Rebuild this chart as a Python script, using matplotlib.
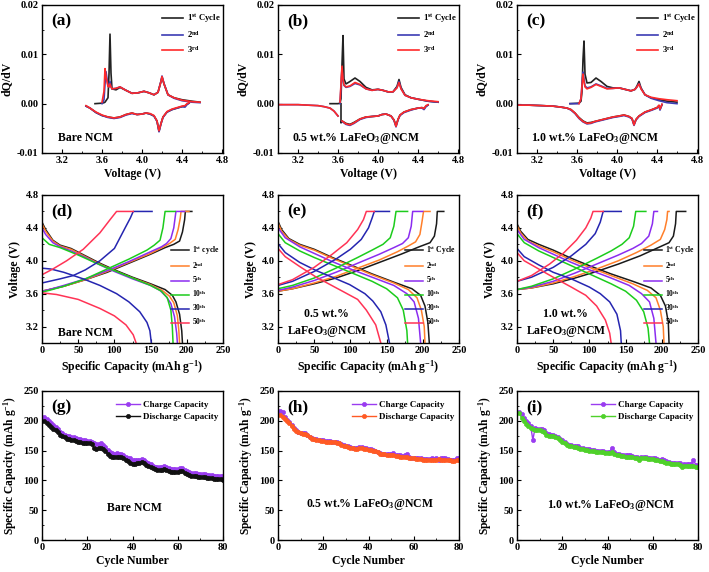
import numpy as np
import matplotlib
matplotlib.use("Agg")
import matplotlib.pyplot as plt
from matplotlib.ticker import AutoMinorLocator

nan = np.nan

# ---------------- (a)-(c) dQ/dV, cycles 1-3 ----------------
a_chg_v = [3.53, 3.60, 3.62, 3.63, 3.64, 3.66, 3.67, 3.68, 3.69, 3.70, 3.74, 3.78, 3.84, 3.90,
           3.96, 4.02, 4.07, 4.12, 4.16, 4.19, 4.20, 4.22, 4.26, 4.32, 4.40, 4.50, 4.58]
a_chg_q = [
    [0.0, 0.0001, 0.0002, 0.0003, 0.0006, 0.0012, 0.006, 0.0141, 0.0062, 0.003, 0.0028, 0.0033, 0.0027, 0.0021,
     0.0022, 0.0025, 0.0022, 0.0018, 0.0023, 0.0045, 0.0054, 0.004, 0.0018, 0.0012, 0.0008, 0.0005, 0.0003],
    [nan, 0.0, 0.0008, 0.004, 0.0065, 0.0036, 0.0034, 0.0045, 0.0034, 0.003, 0.0031, 0.0034, 0.0027, 0.0021,
     0.0022, 0.0025, 0.0022, 0.0018, 0.0023, 0.0046, 0.0056, 0.0041, 0.0018, 0.0011, 0.0006, 0.0003, 0.0002],
    [nan, 0.0003, 0.0025, 0.0071, 0.0055, 0.0035, 0.0034, 0.004, 0.0034, 0.003, 0.0031, 0.0034, 0.0027, 0.0021,
     0.0022, 0.0025, 0.0022, 0.0018, 0.0023, 0.0045, 0.0055, 0.004, 0.0018, 0.0012, 0.0007, 0.0004, 0.0003],
]
a_dis_v = [4.47, 4.45, 4.43, 4.40, 4.35, 4.30, 4.25, 4.21, 4.19, 4.17, 4.15, 4.12, 4.08, 4.04, 4.00,
           3.95, 3.90, 3.84, 3.78, 3.72, 3.66, 3.60, 3.54, 3.48, 3.44]
a_dis_q = [
    [0.0001, -0.0001, -0.0005, -0.0006, -0.0009, -0.0012, -0.0017, -0.0027, -0.0040, -0.0056, -0.0035, -0.0025,
     -0.0021, -0.0019, -0.0021, -0.0022, -0.0019, -0.0022, -0.0027, -0.0029, -0.0027, -0.0024, -0.0018, -0.0009, -0.0005],
    [0.0001, -0.0002, -0.0007, -0.0006, -0.0009, -0.0012, -0.0017, -0.0028, -0.0041, -0.0057, -0.0036, -0.0025,
     -0.0021, -0.0019, -0.0021, -0.0022, -0.0020, -0.0023, -0.0028, -0.0030, -0.0028, -0.0024, -0.0018, -0.0009, -0.0005],
    [0.0002, 0.0, -0.0004, -0.0005, -0.0008, -0.0011, -0.0016, -0.0027, -0.0040, -0.0055, -0.0035, -0.0024,
     -0.0020, -0.0019, -0.0021, -0.0022, -0.0019, -0.0022, -0.0027, -0.0029, -0.0027, -0.0023, -0.0017, -0.0009, -0.0004],
]

b_chg_v = [3.52, 3.60, 3.62, 3.63, 3.64, 3.65, 3.66, 3.68, 3.72, 3.77, 3.82, 3.88, 3.94, 4.00,
           4.05, 4.10, 4.15, 4.19, 4.21, 4.23, 4.27, 4.33, 4.40, 4.50, 4.60]
b_chg_q = [
    [0.0, 0.0, 0.0001, 0.001, 0.008, 0.0138, 0.005, 0.004, 0.0045, 0.0052, 0.0045, 0.0033, 0.0028, 0.0029,
     0.0027, 0.0024, 0.0024, 0.0035, 0.0049, 0.0033, 0.0018, 0.0012, 0.0009, 0.0005, 0.0003],
    [nan, nan, 0.0, 0.0035, 0.007, 0.0048, 0.0037, 0.0033, 0.0035, 0.0041, 0.0038, 0.003, 0.0027, 0.0029,
     0.0027, 0.0024, 0.0024, 0.0033, 0.0045, 0.0031, 0.0017, 0.0012, 0.0009, 0.0005, 0.0003],
    [nan, nan, 0.0003, 0.004, 0.0076, 0.005, 0.0038, 0.0034, 0.0036, 0.0043, 0.0039, 0.003, 0.0027, 0.0029,
     0.0027, 0.0024, 0.0024, 0.0032, 0.0043, 0.003, 0.0017, 0.0012, 0.0009, 0.0006, 0.0004],
]
b_dis_v = [4.50, 4.48, 4.46, 4.44, 4.40, 4.33, 4.26, 4.22, 4.20, 4.18, 4.16, 4.13, 4.08, 4.04, 4.00, 3.94,
           3.88, 3.82, 3.76, 3.72, 3.68, 3.64, 3.63, 3.63, 3.60, 3.56, 3.52, 3.46, 3.40, 3.30, 3.20, 3.10, 3.00]
b_dis_q = [
    [-0.0003, -0.0005, -0.0010, -0.0008, -0.0009, -0.0012, -0.0017, -0.0023, -0.0032, -0.0045, -0.0033, -0.0025,
     -0.0021, -0.0022, -0.0025, -0.0026, -0.0027, -0.0031, -0.0038, -0.0042, -0.0040, -0.0035, -0.0039, 0.0,
     nan, nan, nan, nan, nan, nan, nan, nan, nan],
    [-0.0003, -0.0006, -0.0012, -0.0009, -0.0009, -0.0013, -0.0018, -0.0024, -0.0033, -0.0047, -0.0034, -0.0025,
     -0.0021, -0.0022, -0.0025, -0.0026, -0.0028, -0.0032, -0.0040, -0.0044, -0.0042, -0.0036, nan, nan,
     -0.0025, -0.0015, -0.0009, -0.0006, -0.0004, -0.0003, -0.0002, -0.0002, -0.0002],
    [-0.0002, -0.0004, -0.0010, -0.0008, -0.0009, -0.0012, -0.0017, -0.0023, -0.0032, -0.0046, -0.0033, -0.0025,
     -0.0021, -0.0022, -0.0025, -0.0026, -0.0027, -0.0031, -0.0039, -0.0043, -0.0041, -0.0035, nan, nan,
     -0.0025, -0.0015, -0.0009, -0.0006, -0.0004, -0.0003, -0.0002, -0.0002, -0.0002],
]

c_chg_v = [3.53, 3.62, 3.64, 3.65, 3.66, 3.67, 3.68, 3.70, 3.74, 3.79, 3.84, 3.90, 3.96, 4.02,
           4.08, 4.14, 4.18, 4.20, 4.22, 4.24, 4.28, 4.34, 4.42, 4.50, 4.60]
c_chg_q = [
    [0.0, 0.0001, 0.0005, 0.0025, 0.009, 0.0127, 0.006, 0.0042, 0.0043, 0.0052, 0.0045, 0.0035, 0.0032, 0.0032,
     0.0029, 0.0026, 0.0029, 0.0036, 0.0045, 0.0032, 0.0018, 0.0012, 0.0008, 0.0005, 0.0003],
    [0.0, 0.0, 0.001, 0.004, 0.0064, 0.005, 0.0036, 0.0032, 0.0034, 0.004, 0.0036, 0.0031, 0.0031, 0.0032,
     0.0029, 0.0026, 0.0029, 0.0034, 0.0041, 0.0031, 0.0018, 0.0011, 0.0006, 0.0002, 0.0],
    [nan, 0.0, 0.001, 0.0035, 0.006, 0.0045, 0.0034, 0.003, 0.0033, 0.0039, 0.0035, 0.003, 0.0031, 0.0032,
     0.0029, 0.0026, 0.0029, 0.0034, 0.004, 0.003, 0.0018, 0.0013, 0.001, 0.0008, 0.0006],
]
c_dis_v = [4.45, 4.43, 4.42, 4.40, 4.35, 4.28, 4.22, 4.19, 4.17, 4.15, 4.12, 4.07, 4.02, 3.96, 3.90,
           3.84, 3.78, 3.74, 3.70, 3.66, 3.62, 3.58, 3.54, 3.50, 3.44, 3.36, 3.25, 3.12, 3.00]
c_dis_q = [
    [-0.0002, -0.0011, -0.0004, -0.0008, -0.0012, -0.0017, -0.0025, -0.0032, -0.0042, -0.0030, -0.0026, -0.0023,
     -0.0025, -0.0027, -0.0030, -0.0033, -0.0036, -0.0038, -0.0039, -0.0035, -0.0028, -0.0019, -0.0012, -0.0009,
     -0.0007, -0.0005, -0.0004, -0.0003, -0.0003],
    [-0.0002, -0.0013, -0.0005, -0.0009, -0.0013, -0.0018, -0.0026, -0.0033, -0.0044, -0.0031, -0.0027, -0.0024,
     -0.0026, -0.0028, -0.0031, -0.0034, -0.0037, -0.0040, -0.0041, -0.0037, -0.0030, -0.0020, -0.0013, -0.0009,
     -0.0007, -0.0005, -0.0004, -0.0003, -0.0003],
    [-0.0001, -0.0011, -0.0003, -0.0008, -0.0012, -0.0017, -0.0025, -0.0032, -0.0043, -0.0030, -0.0026, -0.0023,
     -0.0025, -0.0027, -0.0030, -0.0033, -0.0036, -0.0039, -0.0040, -0.0036, -0.0029, -0.0019, -0.0012, -0.0009,
     -0.0007, -0.0005, -0.0004, -0.0003, -0.0003],
]

dqdv_colors = ["#222222", "#3c3cb4", "#ff2a2a"]

# ---------------- (d)-(f) voltage profiles: cycles 1,2,5,10,30,50 ----------------
d_chg_q = [[0, 10, 30, 60, 90, 120, 150, 170, 182, 190, 194, 197, 198, 207],
           [0, 10, 30, 60, 90, 120, 150, 168, 176, 184, 188, 191, 192, 203],
           [0, 10, 30, 60, 90, 120, 150, 165, 172, 178, 182, 185, 197],
           [0, 10, 30, 60, 90, 120, 145, 155, 163, 167, 170, 184],
           [0, 10, 25, 43, 60, 80, 100, 116, 122, 126, 152],
           [0, 15, 34, 57, 80, 94, 103, 126]]
d_chg_v = [[3.63, 3.65, 3.69, 3.77, 3.86, 3.97, 4.08, 4.16, 4.20, 4.24, 4.35, 4.50, 4.60, 4.60],
           [3.63, 3.65, 3.69, 3.77, 3.87, 3.98, 4.09, 4.17, 4.21, 4.26, 4.38, 4.52, 4.60, 4.60],
           [3.63, 3.65, 3.70, 3.78, 3.88, 3.99, 4.11, 4.17, 4.21, 4.27, 4.40, 4.60, 4.60],
           [3.62, 3.64, 3.69, 3.78, 3.90, 4.02, 4.13, 4.19, 4.25, 4.40, 4.60, 4.60],
           [3.73, 3.75, 3.78, 3.82, 3.89, 4.00, 4.15, 4.42, 4.52, 4.60, 4.60],
           [3.83, 3.90, 4.00, 4.14, 4.34, 4.50, 4.60, 4.60]]
d_dis_q = [[0, 0, 5, 15, 25, 40, 60, 80, 100, 125, 150, 170, 180, 185, 190, 193, 194],
           [0, 0, 5, 15, 25, 40, 60, 80, 100, 125, 150, 166, 176, 182, 187, 189, 190],
           [0, 0, 5, 15, 25, 40, 60, 80, 100, 125, 150, 163, 172, 178, 183, 186, 187],
           [0, 0, 10, 25, 50, 75, 100, 125, 150, 165, 173, 178, 180, 181],
           [0, 0, 12, 30, 57, 80, 103, 120, 135, 145, 149, 151],
           [0, 0, 20, 50, 80, 100, 116, 126, 130]]
d_dis_v = [[4.60, 4.47, 4.38, 4.25, 4.19, 4.15, 4.06, 3.97, 3.89, 3.80, 3.72, 3.65, 3.58, 3.50, 3.35, 3.15, 3.00],
           [4.60, 4.45, 4.36, 4.24, 4.18, 4.14, 4.05, 3.96, 3.88, 3.79, 3.71, 3.64, 3.57, 3.49, 3.33, 3.15, 3.00],
           [4.60, 4.40, 4.32, 4.22, 4.17, 4.12, 4.04, 3.95, 3.87, 3.78, 3.70, 3.64, 3.56, 3.48, 3.32, 3.12, 3.00],
           [4.60, 4.28, 4.20, 4.16, 4.07, 3.97, 3.88, 3.79, 3.70, 3.63, 3.55, 3.40, 3.20, 3.00],
           [4.60, 3.91, 3.90, 3.86, 3.78, 3.70, 3.60, 3.50, 3.38, 3.25, 3.15, 3.00],
           [4.60, 3.61, 3.59, 3.53, 3.42, 3.33, 3.22, 3.10, 3.00]]

e_chg_q = [[0, 20, 50, 80, 110, 140, 170, 195, 210, 216, 219, 220, 229],
           [0, 20, 50, 80, 110, 140, 165, 180, 190, 196, 199, 201, 210],
           [0, 20, 50, 80, 110, 140, 160, 172, 180, 184, 186, 200],
           [0, 20, 50, 80, 110, 130, 145, 155, 160, 163, 179],
           [0, 20, 50, 80, 100, 115, 125, 130, 133, 154],
           [0, 20, 50, 75, 95, 110, 118, 122, 133]]
e_chg_v = [[3.63, 3.66, 3.72, 3.79, 3.88, 3.98, 4.08, 4.17, 4.22, 4.30, 4.45, 4.60, 4.60],
           [3.63, 3.66, 3.73, 3.81, 3.91, 4.01, 4.11, 4.18, 4.23, 4.32, 4.48, 4.60, 4.60],
           [3.64, 3.68, 3.76, 3.86, 3.97, 4.08, 4.16, 4.21, 4.28, 4.42, 4.60, 4.60],
           [3.66, 3.70, 3.79, 3.91, 4.04, 4.13, 4.20, 4.28, 4.42, 4.60, 4.60],
           [3.70, 3.75, 3.87, 4.02, 4.14, 4.26, 4.40, 4.52, 4.60, 4.60],
           [3.71, 3.77, 3.92, 4.08, 4.22, 4.38, 4.50, 4.60, 4.60]]
e_dis_q = [[0, 0, 5, 15, 30, 50, 75, 100, 130, 160, 185, 197, 203, 207, 209],
           [0, 0, 5, 15, 30, 50, 75, 100, 130, 160, 180, 192, 198, 202, 203],
           [0, 0, 10, 30, 50, 75, 100, 130, 160, 178, 188, 194, 197],
           [0, 0, 10, 30, 50, 75, 100, 130, 150, 165, 173, 178, 179],
           [0, 0, 10, 30, 53, 75, 99, 120, 131, 142, 149, 154],
           [0, 0, 10, 30, 53, 89, 110, 122, 135, 142]]
e_dis_v = [[4.60, 4.48, 4.38, 4.27, 4.20, 4.14, 4.04, 3.95, 3.84, 3.74, 3.66, 3.58, 3.45, 3.25, 3.00],
           [4.60, 4.46, 4.36, 4.26, 4.19, 4.13, 4.03, 3.94, 3.83, 3.73, 3.65, 3.55, 3.40, 3.20, 3.00],
           [4.60, 4.40, 4.28, 4.17, 4.09, 3.99, 3.90, 3.80, 3.70, 3.60, 3.50, 3.30, 3.00],
           [4.60, 4.33, 4.22, 4.12, 4.04, 3.95, 3.86, 3.75, 3.66, 3.55, 3.40, 3.15, 3.00],
           [4.60, 4.21, 4.10, 3.98, 3.88, 3.80, 3.71, 3.60, 3.51, 3.38, 3.22, 3.00],
           [4.60, 4.15, 4.05, 3.93, 3.80, 3.63, 3.53, 3.40, 3.22, 3.00]]

f_chg_q = [[0, 20, 50, 80, 110, 140, 170, 195, 210, 216, 219, 220, 233],
           [0, 20, 50, 80, 110, 140, 165, 185, 198, 204, 207, 208, 210],
           [0, 20, 50, 80, 110, 140, 160, 172, 182, 187, 189, 194],
           [0, 20, 50, 80, 110, 130, 145, 155, 161, 164, 178],
           [0, 20, 50, 75, 95, 108, 115, 119, 144],
           [0, 20, 45, 65, 82, 95, 102, 105, 119]]
f_chg_v = [[3.65, 3.67, 3.72, 3.79, 3.87, 3.96, 4.06, 4.16, 4.22, 4.30, 4.45, 4.60, 4.60],
           [3.65, 3.67, 3.73, 3.81, 3.90, 4.00, 4.10, 4.19, 4.26, 4.38, 4.50, 4.60, 4.60],
           [3.65, 3.68, 3.75, 3.85, 3.96, 4.07, 4.15, 4.21, 4.30, 4.45, 4.60, 4.60],
           [3.65, 3.69, 3.78, 3.90, 4.03, 4.12, 4.20, 4.28, 4.42, 4.60, 4.60],
           [3.75, 3.80, 3.92, 4.06, 4.20, 4.33, 4.47, 4.60, 4.60],
           [3.75, 3.82, 3.96, 4.10, 4.25, 4.40, 4.52, 4.60, 4.60]]
f_dis_q = [[0, 0, 5, 15, 30, 50, 75, 100, 130, 160, 185, 198, 205, 209, 210],
           [0, 0, 5, 15, 30, 50, 75, 100, 130, 160, 180, 192, 198, 202, 203],
           [0, 0, 10, 30, 50, 75, 100, 130, 155, 172, 183, 189, 192],
           [0, 0, 10, 30, 50, 75, 100, 130, 150, 165, 175, 181, 183],
           [0, 0, 10, 30, 50, 75, 100, 115, 128, 138, 143, 144],
           [0, 0, 10, 30, 50, 75, 95, 110, 122, 128, 130]]
f_dis_v = [[4.60, 4.45, 4.36, 4.26, 4.20, 4.13, 4.03, 3.94, 3.84, 3.75, 3.67, 3.58, 3.45, 3.25, 3.00],
           [4.60, 4.43, 4.34, 4.24, 4.18, 4.11, 4.01, 3.92, 3.82, 3.72, 3.64, 3.55, 3.40, 3.20, 3.00],
           [4.60, 4.38, 4.26, 4.16, 4.08, 3.98, 3.89, 3.79, 3.70, 3.60, 3.50, 3.30, 3.00],
           [4.60, 4.33, 4.22, 4.12, 4.04, 3.94, 3.84, 3.72, 3.63, 3.52, 3.38, 3.18, 3.00],
           [4.60, 4.15, 4.05, 3.95, 3.86, 3.78, 3.68, 3.60, 3.50, 3.35, 3.15, 3.00],
           [4.60, 4.10, 4.00, 3.90, 3.80, 3.68, 3.58, 3.45, 3.28, 3.12, 3.00]]

profile_colors = ["#1a1a1a", "#ff7f2a", "#8b2cf0", "#1ccc1c", "#2525b0", "#ff3355"]

# ---------------- (g)-(i) cycling ----------------
cycles = list(range(1, 81))
g_chg = [207, 203, 199, 196, 193, 190, 186, 182, 179, 176, 175, 174, 173, 172, 171, 170, 169, 168, 167, 166,
         166, 165, 163, 161, 161, 162, 160, 156, 151, 147, 146, 145, 146, 145, 144, 143, 140, 138, 137, 135,
         134, 134, 135, 136, 134, 131, 129, 127, 125, 123, 123, 123, 123, 124, 122, 120, 119, 119, 119, 119,
         120, 121, 118, 116, 114, 113, 113, 112, 111, 111, 110, 110, 109, 109, 109, 108, 108, 108, 107, 107]
g_dis = [200, 197, 193, 190, 187, 184, 181, 177, 174, 172, 170, 169, 168, 167, 166, 165, 164, 163, 163, 162,
         162, 161, 155, 153, 154, 155, 153, 149, 144, 141, 140, 140, 140, 140, 139, 138, 134, 132, 130, 128,
         128, 129, 130, 131, 129, 126, 124, 122, 120, 119, 118, 118, 118, 119, 117, 115, 114, 114, 114, 114,
         115, 116, 113, 111, 109, 108, 108, 107, 106, 106, 105, 105, 104, 104, 104, 103, 103, 103, 102, 101]
h_chg = [216, 214, 206, 202, 198, 193, 188, 185, 182, 180, 179, 179, 177, 173, 171, 170, 169, 168, 167, 167,
         166, 166, 166, 165, 165, 164, 163, 161, 159, 158, 157, 156, 155, 154, 154, 156, 156, 155, 154, 153,
         152, 151, 150, 148, 146, 145, 145, 144, 144, 144, 146, 143, 142, 142, 141, 142, 144, 139, 138, 138,
         137, 137, 137, 136, 136, 136, 136, 137, 136, 138, 134, 138, 137, 137, 136, 135, 134, 134, 138, 137]
h_dis = [210, 207, 203, 200, 196, 191, 186, 183, 181, 179, 178, 178, 176, 172, 170, 169, 168, 167, 166, 166,
         165, 165, 165, 164, 164, 163, 162, 160, 158, 157, 156, 155, 154, 153, 153, 154, 154, 153, 152, 151,
         151, 150, 149, 147, 145, 144, 144, 143, 143, 142, 142, 141, 141, 140, 140, 140, 139, 138, 137, 137,
         136, 136, 136, 135, 135, 135, 135, 135, 135, 135, 136, 135, 135, 135, 134, 134, 133, 133, 134, 134]
i_chg = [215, 211, 205, 199, 196, 192, 168, 188, 187, 186, 186, 185, 180, 178, 177, 176, 175, 173, 170, 167,
         164, 161, 160, 159, 158, 158, 157, 155, 154, 153, 153, 152, 151, 151, 150, 150, 149, 149, 148, 148,
         148, 155, 148, 145, 144, 143, 143, 142, 142, 143, 141, 140, 139, 137, 140, 139, 140, 138, 138, 138,
         137, 136, 135, 136, 134, 132, 131, 130, 129, 130, 129, 130, 125, 127, 127, 127, 127, 135, 126, 124]
i_dis = [213, 205, 200, 195, 192, 188, 186, 185, 184, 184, 183, 182, 176, 175, 175, 174, 173, 171, 168, 165,
         162, 159, 158, 157, 156, 156, 155, 153, 152, 151, 151, 150, 149, 149, 148, 148, 147, 147, 146, 146,
         146, 147, 145, 143, 142, 141, 141, 140, 140, 140, 139, 138, 137, 135, 138, 137, 137, 136, 136, 136,
         135, 134, 133, 132, 131, 130, 129, 128, 127, 127, 127, 126, 122, 125, 125, 125, 125, 125, 123, 122]

plt.rcParams["font.family"] = "Liberation Serif"
plt.rcParams["font.weight"] = "bold"
plt.rcParams["axes.labelweight"] = "bold"
plt.rcParams["axes.unicode_minus"] = False
plt.rcParams["mathtext.fontset"] = "custom"
plt.rcParams["mathtext.rm"] = "Liberation Serif:bold"
plt.rcParams["mathtext.bf"] = "Liberation Serif:bold"
plt.rcParams["mathtext.it"] = "Liberation Serif:bold:italic"
plt.rcParams["xtick.direction"] = "in"
plt.rcParams["ytick.direction"] = "in"

W, H = 709, 572
fig = plt.figure(figsize=(W / 100, H / 100), dpi=100)

col_left = [42, 278, 517]
row_tb = [(5, 153), (195, 343), (391, 540)]
aw = 181


def make_ax(r, c):
    t, b = row_tb[r]
    ax = fig.add_axes([col_left[c] / W, 1 - b / H, aw / W, (b - t) / H])
    for s in ax.spines.values():
        s.set_linewidth(1.0)
    ax.tick_params(labelsize=7.5, length=3, width=0.8, pad=2.5)
    ax.tick_params(which="minor", length=1.6, width=0.6)
    ax.xaxis.set_minor_locator(AutoMinorLocator(2))
    ax.yaxis.set_minor_locator(AutoMinorLocator(2))
    return ax


def letter(ax, s, x=0.05, y=0.89):
    ax.text(x, y, s, transform=ax.transAxes, fontsize=12.5, fontweight="bold", ha="left", va="center")


# row 1
dq_panels = [(a_chg_v, a_chg_q, a_dis_v, a_dis_q, "Bare NCM", "(a)"),
             (b_chg_v, b_chg_q, b_dis_v, b_dis_q, "0.5 wt.% LaFeO$_3$@NCM", "(b)"),
             (c_chg_v, c_chg_q, c_dis_v, c_dis_q, "1.0 wt.% LaFeO$_3$@NCM", "(c)")]
dq_labels = ["1$^{\\rm st}$ Cycle", "2$^{\\rm nd}$", "3$^{\\rm rd}$"]
for c, (cv, cq, dv, dq, name, let) in enumerate(dq_panels):
    ax = make_ax(0, c)
    for k in range(3):
        ax.plot(cv, cq[k], color=dqdv_colors[k], lw=1.2, label=dq_labels[k])
        ax.plot(dv, dq[k], color=dqdv_colors[k], lw=1.2)
    ax.set_xlim(3.0, 4.81)
    ax.set_ylim(-0.01, 0.02)
    ax.set_xticks([3.2, 3.6, 4.0, 4.4, 4.8])
    ax.set_yticks([-0.01, 0.0, 0.01, 0.02])
    ax.set_xlabel("Voltage (V)", fontsize=8.5, labelpad=2)
    ax.set_ylabel("dQ/dV", fontsize=8.5, labelpad=3)
    ax.legend(loc="upper right", bbox_to_anchor=(1.03, 1.0), fontsize=6.3, frameon=False,
              handlelength=2.4, labelspacing=0.45, handletextpad=0.4)
    letter(ax, let)
    ax.text(0.09 if c == 0 else 0.08, 0.1, name, transform=ax.transAxes, fontsize=8.5,
            fontweight="bold", ha="left", va="center")

# row 2
pr_panels = [(d_chg_q, d_chg_v, d_dis_q, d_dis_v, "(d)"),
             (e_chg_q, e_chg_v, e_dis_q, e_dis_v, "(e)"),
             (f_chg_q, f_chg_v, f_dis_q, f_dis_v, "(f)")]
for c, (cq, cv, dq, dv, let) in enumerate(pr_panels):
    ax = make_ax(1, c)
    first = "1$^{\\rm st}$ cycle" if c == 0 else "1$^{\\rm st}$ Cycle"
    labels = [first, "2$^{\\rm nd}$", "5$^{\\rm th}$", "10$^{\\rm th}$", "30$^{\\rm th}$", "50$^{\\rm th}$"]
    for k in range(6):
        ax.plot(cq[k], cv[k], color=profile_colors[k], lw=1.1, label=labels[k])
        ax.plot(dq[k], dv[k], color=profile_colors[k], lw=1.1)
    ax.set_xlim(0, 250)
    ax.set_ylim(3.0, 4.8)
    ax.set_xticks([0, 50, 100, 150, 200, 250])
    ax.set_yticks([3.2, 3.6, 4.0, 4.4, 4.8])
    ax.set_xlabel("Specific Capacity (mAh g$^{-1}$)", fontsize=8.5, labelpad=2)
    ax.set_ylabel("Voltage (V)", fontsize=8.5, labelpad=3)
    ax.legend(loc="upper right", bbox_to_anchor=(1.02, 0.71), fontsize=5.5, frameon=False,
              handlelength=2.4, labelspacing=0.4, handletextpad=0.4)
    letter(ax, let)
    if c == 0:
        ax.text(0.09, 0.07, "Bare NCM", transform=ax.transAxes, fontsize=8.5, ha="left", va="center")
    else:
        ax.text(0.27, 0.13, "%s wt.%%\nLaFeO$_3$@NCM" % ("0.5" if c == 1 else "1.0"),
                transform=ax.transAxes, fontsize=8.5, ha="center", va="center", linespacing=1.4)

# row 3
cy_panels = [(g_chg, g_dis, "#111111", "Bare NCM", "(g)", (0.51, 0.215)),
             (h_chg, h_dis, "#ff5a24", "0.5 wt.% LaFeO$_3$@NCM", "(h)", (0.51, 0.235)),
             (i_chg, i_dis, "#4fd12a", "1.0 wt.% LaFeO$_3$@NCM", "(i)", (0.52, 0.23))]
for c, (chg, dis, dcol, name, let, pos) in enumerate(cy_panels):
    ax = make_ax(2, c)
    ax.plot(cycles, chg, color="#9a3cf0", lw=1.0, marker="o", ms=3, mew=0.5, label="Charge Capacity")
    ax.plot(cycles, dis, color=dcol, lw=1.0, marker="o", ms=3, mew=0.5, label="Discharge Capacity")
    ax.set_xlim(0, 80)
    ax.set_ylim(0, 250)
    ax.set_xticks([0, 20, 40, 60, 80])
    ax.set_yticks([0, 50, 100, 150, 200, 250])
    ax.set_xlabel("Cycle Number", fontsize=8.5, labelpad=2)
    ax.set_ylabel("Specific Capacity (mAh g$^{-1}$)", fontsize=8.3, labelpad=3)
    ax.legend(loc="upper right", bbox_to_anchor=(1.02, 0.99), fontsize=6.5, frameon=False,
              handlelength=2.6, labelspacing=0.4, handletextpad=0.4)
    letter(ax, let)
    ax.text(pos[0], pos[1], name, transform=ax.transAxes, fontsize=8.5, ha="center", va="center")

fig.savefig("out.png", dpi=100)
